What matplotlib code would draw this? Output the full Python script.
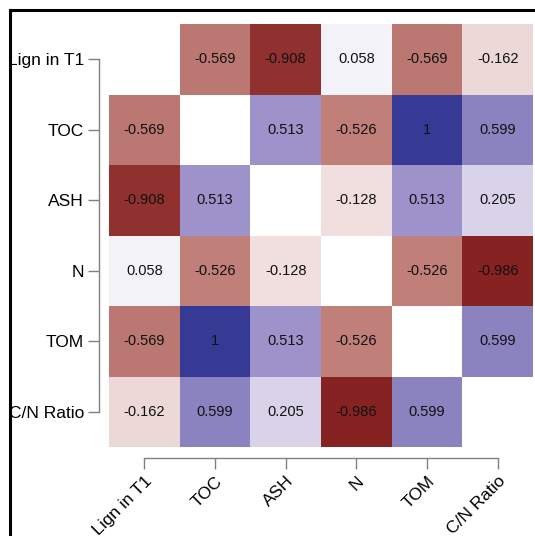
import numpy as np
import matplotlib
matplotlib.use("Agg")
import matplotlib.pyplot as plt
from matplotlib.colors import LinearSegmentedColormap
from matplotlib.lines import Line2D

plt.rcParams["font.family"] = ["Liberation Sans", "DejaVu Sans"]

labels = ["Lign in T1", "TOC", "ASH", "N", "TOM", "C/N Ratio"]
r_lign = [np.nan, -0.569, -0.908, 0.058, -0.569, -0.162]
r_toc = [-0.569, np.nan, 0.513, -0.526, 1, 0.599]
r_ash = [-0.908, 0.513, np.nan, -0.128, 0.513, 0.205]
r_n = [0.058, -0.526, -0.128, np.nan, -0.526, -0.986]
r_tom = [-0.569, 1, 0.513, -0.526, np.nan, 0.599]
r_cn = [-0.162, 0.599, 0.205, -0.986, 0.599, np.nan]
corr = np.array([r_lign, r_toc, r_ash, r_n, r_tom, r_cn])

cmap = LinearSegmentedColormap.from_list(
    "rb", [(0, "#85201f"), (0.25, "#c4857f"), (0.5, "#ffffff"),
           (0.75, "#a094cb"), (1, "#363a95")])

W, H = 535, 536
fig = plt.figure(figsize=(W / 100, H / 100), dpi=100)
ax = fig.add_axes([109 / W, (H - 447) / H, 424 / W, 423 / H])

n = len(labels)
ax.pcolormesh(np.arange(n + 1) - 0.5, np.arange(n + 1) - 0.5,
              np.ma.masked_invalid(corr), cmap=cmap, vmin=-1, vmax=1)
ax.set_xlim(-0.5, n - 0.5)
ax.set_ylim(n - 0.5, -0.5)

for i in range(n):
    for j in range(n):
        v = corr[i, j]
        if not np.isnan(v):
            ax.text(j, i, f"{v:g}", ha="center", va="center", fontsize=10.5, color="#111111")

# spines first: set_position resets the ticks
for s in ["top", "right"]:
    ax.spines[s].set_visible(False)
ax.spines["left"].set_position(("outward", 7))
ax.spines["bottom"].set_position(("outward", 8))
ax.spines["left"].set_bounds(0, n - 1)
ax.spines["bottom"].set_bounds(0, n - 1)
for s in ["left", "bottom"]:
    ax.spines[s].set_color("#808080")
    ax.spines[s].set_linewidth(1)

ax.tick_params(length=8, width=1, color="#808080", labelsize=12.5, labelcolor="black", pad=3)
ax.set_xticks(range(n))
ax.set_yticks(range(n))
ax.set_yticklabels(labels)
ax.set_xticklabels(labels, rotation=45, ha="right", va="top", rotation_mode="anchor")

# outer frame (top and left edges)
fig.add_artist(Line2D([10 / W, 1], [1 - 10 / H, 1 - 10 / H], color="black", lw=2.2))
fig.add_artist(Line2D([10 / W, 10 / W], [0, 1 - 10 / H], color="black", lw=2.2))

fig.savefig("out.png", dpi=100)
